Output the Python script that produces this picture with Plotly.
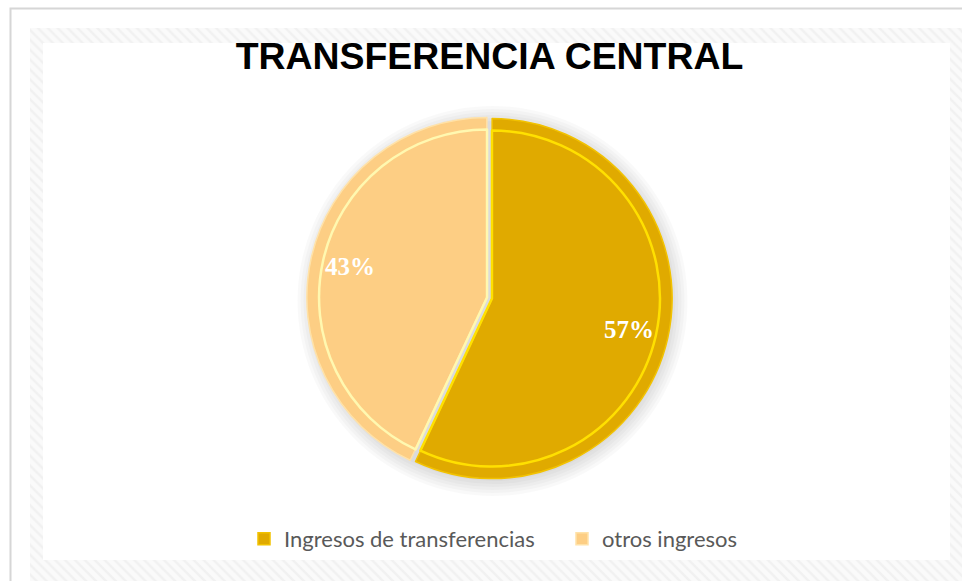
import math
import plotly.graph_objects as go

# ---- data ----
labels = ["Ingresos de transferencias", "otros ingresos"]
values = [57, 43]
slice_colors = ["#E0AA00", "#FDCE84"]
title_text = "TRANSFERENCIA CENTRAL"

W, H = 962, 581

fig = go.Figure()

# hatched frame (decorative) drawn with a patterned filled scatter in pixel space
ox0, oy0, ox1, oy1 = 30, 28, 975, 595
ix0, iy0, ix1, iy1 = 43, 43, 950, 560
fx = [ox0, ox1, ox1, ox0, ox0, None, ix0, ix0, ix1, ix1, ix0]
fy = [oy0, oy0, oy1, oy1, oy0, None, iy0, iy1, iy1, iy0, iy0]
fig.add_trace(go.Scatter(
    x=fx, y=fy, mode="lines", fill="toself",
    line=dict(width=0, color="rgba(0,0,0,0)"),
    fillcolor="#f6f6f6",
    fillpattern=dict(shape="\\", fgcolor="#e8e8e8", bgcolor="#fafafa", size=7, solidity=0.35),
    hoverinfo="skip", showlegend=False,
))

# pie geometry (paper domain)
cx, cy, r = 489.5, 298, 180
pull = 0.015
half = r * (1 + pull)
dom_x = [(cx - half) / W, (cx + half) / W]
dom_y = [(H - cy - half) / H, (H - cy + half) / H]

fig.add_trace(go.Pie(
    labels=labels, values=values, sort=False, direction="clockwise", rotation=0,
    pull=[pull, pull],
    marker=dict(colors=slice_colors, line=dict(color=["#F2C200", "#FFE2A8"], width=1.5)),
    textinfo="none",
    domain=dict(x=dom_x, y=dom_y),
    hoverinfo="label+percent",
))

# inner bevel highlight
ri = 168
halfi = ri * (1 + pull)
fig.add_trace(go.Pie(
    labels=labels, values=values, sort=False, direction="clockwise", rotation=0,
    pull=[pull, pull],
    marker=dict(colors=["rgba(0,0,0,0)", "rgba(0,0,0,0)"],
                line=dict(color=["#FFE000", "#FFF8B0"], width=2.5)),
    textinfo="none", showlegend=False, hoverinfo="skip",
    domain=dict(x=[(cx - halfi) / W, (cx + halfi) / W], y=[(H - cy - halfi) / H, (H - cy + halfi) / H]),
))

# percentage labels placed along each slice's bisector (computed from the values)
total = sum(values)
annotations = []
cum = 0
for v in values:
    mid = 2 * math.pi * (cum + v / 2) / total
    cum += v
    rad = r * (0.78 + pull)
    annotations.append(dict(
        x=cx + rad * math.sin(mid), y=cy - rad * math.cos(mid), xref="x", yref="y",
        text=f"{round(100 * v / total)}%", showarrow=False,
        font=dict(family="Liberation Serif", size=25, color="white", weight="bold"),
    ))

shapes = []
# soft shadow behind pie
for rr in range(195, 179, -3):
    shapes.append(dict(type="circle", xref="x", yref="y",
                       x0=cx + 3 - rr, x1=cx + 3 + rr, y0=cy + 3 - rr, y1=cy + 3 + rr,
                       line=dict(width=0), fillcolor="rgba(0,0,0,0.022)", layer="below"))
# outer thin border
shapes.append(dict(type="rect", xref="x", yref="y", x0=10.5, y0=8.5, x1=1000, y1=620,
                   line=dict(color="#d6d6d6", width=2), fillcolor="rgba(0,0,0,0)", layer="below"))

fig.update_layout(
    width=W, height=H,
    margin=dict(l=0, r=0, t=0, b=0),
    paper_bgcolor="white", plot_bgcolor="white",
    xaxis=dict(range=[0, W], visible=False, domain=[0, 1], fixedrange=True),
    yaxis=dict(range=[H, 0], visible=False, domain=[0, 1], fixedrange=True),
    shapes=shapes,
    annotations=annotations,
    title=dict(text=title_text, x=489.5 / W, xanchor="center", y=1 - 56 / H, yanchor="middle",
               font=dict(family="Liberation Sans", size=37.4, color="black", weight="bold")),
    legend=dict(orientation="h", x=0.5 + 81 / W, xanchor="center", y=1 - 539 / H, yanchor="middle",
                entrywidth=273, entrywidthmode="pixels",
                font=dict(family="Lato", size=22, color="#595959"), bgcolor="rgba(0,0,0,0)"),
    showlegend=True,
)

fig.write_html("out.html", config={"displayModeBar": False},
               post_script="document.body.style.margin='0px';document.body.style.overflow='hidden';")
